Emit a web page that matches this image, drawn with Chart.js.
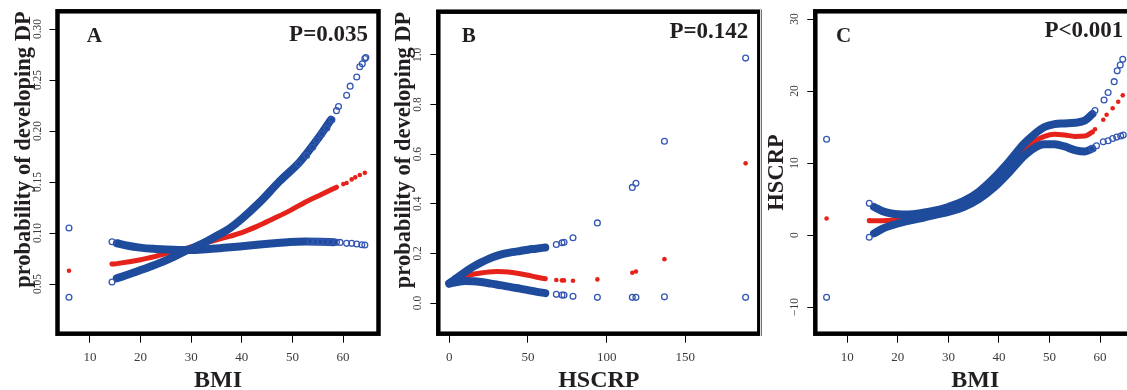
<!DOCTYPE html>
<html>
<head>
<meta charset="utf-8">
<title>BMI / HSCRP and probability of developing DP</title>
<script src="https://cdn.jsdelivr.net/npm/chart.js@4.4.1/dist/chart.umd.min.js"></script>
<style>
  html, body { margin: 0; padding: 0; background: #fff; }
  body { width: 1127px; height: 390px; overflow: hidden; position: relative; }
  canvas { position: absolute; top: 0; }
  #sep { position: absolute; left: 760px; top: 8px; width: 1px; height: 328px; background: #dedede; }
</style>
</head>
<body>
<canvas id="cA" width="385" height="390" style="left:0"></canvas>
<canvas id="cB" width="385" height="390" style="left:380px"></canvas>
<div id="sep"></div>
<canvas id="cC" width="385" height="390" style="left:760px"></canvas>
<script>
/* three spline panels: fitted curve (red) with upper / lower CI (blue) */

// A: BMI -> probability of developing DP
const aFitX = [14.35, 15.3, 20, 23.2, 26.5, 29.8, 33, 36.4, 40, 43, 46.2, 49.5, 52.8, 55.8, 58.7];
const aFitY = [0.0696, 0.0700, 0.0738, 0.0775, 0.0818, 0.0862, 0.0905, 0.0952, 0.1005, 0.1065, 0.1140, 0.1220, 0.1310, 0.1380, 0.1450];
const aFitDotX = [5.85, 14.35, 60.05, 60.7, 61.7, 62.4, 63.3, 64.3];
const aFitDotY = [0.063, 0.0696, 0.148, 0.149, 0.1526, 0.1546, 0.1569, 0.159];
const aUpX = [15.3, 17.5, 19.9, 22.5, 25.2, 27.5, 29.8, 33, 36.4, 39.6, 43, 46.3, 49.5, 52.5, 55.5, 58.2];
const aUpY = [0.0900, 0.0875, 0.0857, 0.0845, 0.0838, 0.0834, 0.0833, 0.0842, 0.0855, 0.0868, 0.0885, 0.0900, 0.0912, 0.0916, 0.0915, 0.0910];
const aLowX = [15.3, 18, 20.5, 23.2, 26, 28.5, 31, 33.1, 35.5, 37.7, 40, 43.5, 47.5, 51.5, 54.8, 57.6];
const aLowY = [0.0556, 0.0600, 0.0645, 0.0695, 0.0755, 0.0815, 0.0870, 0.0920, 0.0985, 0.1050, 0.1140, 0.1300, 0.1510, 0.1700, 0.1910, 0.2110];
const aRingX = [5.85, 5.85, 14.35, 14.35, 51.2, 52.8, 54, 54.8, 55.8, 56.8, 57.8, 58.7, 59.1, 60.7, 61.4, 62.7, 63.3, 63.8, 64.3, 64.5,
                53.5, 54.5, 55.5, 56.5, 57.5, 58.7, 59.4, 60.7, 61.7, 62.7, 63.7, 64.3];
const aRingY = [0.105, 0.037, 0.0915, 0.052, 0.168, 0.176, 0.184, 0.191, 0.197, 0.203, 0.211, 0.220, 0.224, 0.235, 0.244, 0.253, 0.263, 0.266, 0.271, 0.272,
                0.0916, 0.0916, 0.0915, 0.0914, 0.0912, 0.0909, 0.0908, 0.0899, 0.0899, 0.0892, 0.0885, 0.0882];

// B: HSCRP -> probability of developing DP
const bCurveX = [0, 3, 6, 10, 15, 20, 25, 30, 35, 40, 45, 50, 55, 61];
const bFitY = [0.080, 0.090, 0.099, 0.108, 0.116, 0.121, 0.125, 0.127, 0.126, 0.123, 0.118, 0.112, 0.105, 0.098];
const bUpY = [0.080, 0.093, 0.107, 0.125, 0.146, 0.163, 0.178, 0.190, 0.199, 0.205, 0.210, 0.215, 0.219, 0.224];
const bLowY = [0.078, 0.082, 0.086, 0.089, 0.088, 0.085, 0.080, 0.075, 0.069, 0.063, 0.058, 0.052, 0.046, 0.040];
const bDotX = [68, 71.6, 72.9, 78.6, 94.1, 116.3, 118.6, 136.7, 188.3];
const bFitDotY = [0.0926, 0.0912, 0.0912, 0.0899, 0.0953, 0.122, 0.127, 0.177, 0.563];
const bUpDotY = [0.236, 0.243, 0.245, 0.263, 0.323, 0.466, 0.483, 0.652, 0.987];
const bLowDotY = [0.035, 0.032, 0.032, 0.027, 0.023, 0.023, 0.023, 0.025, 0.023];

// C: BMI -> HSCRP
const cFitX = [14.35, 15.3, 17, 19, 21, 23, 25, 28, 30, 33, 36, 39, 42, 45, 47, 49, 51, 53, 55, 57, 58.5];
const cFitY = [2.0, 2.0, 2.0, 2.05, 2.2, 2.45, 2.75, 3.2, 3.55, 4.3, 5.5, 7.2, 9.4, 11.8, 13.0, 13.7, 14.0, 13.9, 13.7, 13.75, 14.3];
const cBandX = [15.3, 17, 19, 21, 23, 25, 28, 30, 33, 36, 39, 42, 45, 47, 49, 51, 53, 55, 57, 58.5];
const cUpY = [3.9, 3.3, 2.95, 2.85, 2.9, 3.1, 3.5, 3.9, 4.7, 6.0, 7.9, 10.2, 12.7, 14.0, 15.0, 15.4, 15.5, 15.6, 15.9, 16.8];
const cLowY = [0.23, 0.9, 1.4, 1.8, 2.1, 2.4, 2.9, 3.2, 3.9, 5.0, 6.6, 8.7, 11.0, 12.1, 12.6, 12.6, 12.3, 11.8, 11.6, 12.0];
const cFitDotX = [5.9, 14.35, 59.0, 60.65, 61.3, 62.5, 63.6, 64.5];
const cFitDotY = [2.3, 2.04, 14.7, 16.0, 16.7, 17.6, 18.5, 19.4];
const cRingX = [5.9, 5.9, 14.35, 14.35, 59.0, 60.8, 61.6, 62.8, 63.4, 64.0, 64.5, 58.4, 59.3, 60.65, 61.6, 62.5, 63.3, 64.1, 64.6];
const cRingY = [13.3, -8.65, 4.4, -0.3, 17.3, 18.75, 19.8, 21.3, 22.8, 23.6, 24.4, 12.0, 12.4, 12.96, 13.1, 13.4, 13.6, 13.75, 13.9];

const RED = '#e5231b';
const BAND = '#1e4b9b';
const RING = '#3457b3';
const INK = '#231f20';
const SERIF = '"Liberation Serif", "DejaVu Serif", serif';

function pts(xs, ys) { return xs.map((x, i) => ({ x: x, y: ys[i] })); }

function bandSet(xs, ys) {
    return { data: pts(xs, ys), showLine: true, borderColor: BAND, borderWidth: 8, pointRadius: 0,
             cubicInterpolationMode: 'monotone', borderCapStyle: 'round', borderJoinStyle: 'round', order: 1 };
}
function fitSet(xs, ys) {
    return { data: pts(xs, ys), showLine: true, borderColor: RED, borderWidth: 5, pointRadius: 0,
             cubicInterpolationMode: 'monotone', borderCapStyle: 'round', borderJoinStyle: 'round', order: 3 };
}
function ringSet(xs, ys) {
    return { data: pts(xs, ys), showLine: false, pointRadius: 2.9, pointBorderWidth: 1.3,
             pointBorderColor: RING, pointBackgroundColor: 'rgba(0,0,0,0)', order: 0 };
}
function dotSet(xs, ys) {
    return { data: pts(xs, ys), showLine: false, pointRadius: 2.3, pointBorderWidth: 0,
             pointBackgroundColor: RED, order: 2 };
}

// frame, panel letter and P value
const panelFrame = {
    id: 'panelFrame',
    afterDraw(chart, args, o) {
        const { ctx, chartArea: ca } = chart;
        ctx.save();
        ctx.lineWidth = 4.5;
        ctx.strokeStyle = '#000';
        ctx.strokeRect(ca.left, ca.top, ca.right - ca.left, ca.bottom - ca.top);
        ctx.fillStyle = INK;
        ctx.textBaseline = 'alphabetic';
        ctx.font = 'bold 21px ' + SERIF;
        ctx.textAlign = 'left';
        ctx.fillText(o.letter, ca.left + o.letterDx, ca.top + o.letterDy);
        ctx.font = 'bold 23px ' + SERIF;
        ctx.textAlign = 'right';
        ctx.fillText(o.pText, ca.right - o.pDx, ca.top + o.pDy);
        ctx.restore();
    }
};

const minus = v => (v < 0 ? '\u2212' + Math.abs(v) : String(v));

const panels = [
    { id: 'cA', letter: 'A', pText: 'P=0.035', xTitle: 'BMI', yTitle: 'probability of developing DP', yTitleAlign: 'end',
      xMin: 3.58, xMax: 67.0, xStep: 10, yMin: 0.0013, yMax: 0.3174, yStep: 0.05, yFmt: v => v.toFixed(2),
      yAxisW: 57.5, padRight: 6.5, yTickPad: 1.9, yTitlePad: 11,
      letterDx: 29.2, letterDy: 30.4, pDx: 10.5, pDy: 29.4,
      datasets: [ringSet(aRingX, aRingY), bandSet(aUpX, aUpY), bandSet(aLowX, aLowY),
                 dotSet(aFitDotX, aFitDotY), fitSet(aFitX, aFitY)] },
    { id: 'cB', letter: 'B', pText: 'P=0.142', xTitle: 'HSCRP', yTitle: 'probability of developing DP', yTitleAlign: 'end',
      xMin: -7.0, xMax: 197.0, xStep: 50, yMin: -0.1235, yMax: 1.174, yStep: 0.2, yFmt: v => v.toFixed(1),
      yAxisW: 58.3, padRight: 5.7, yTickPad: 4.8, yTitlePad: 11,
      letterDx: 23.4, letterDy: 30.4, pDx: 11, pDy: 26.4,
      datasets: [ringSet(bDotX, bUpDotY), ringSet(bDotX, bLowDotY), bandSet(bCurveX, bUpY), bandSet(bCurveX, bLowY),
                 dotSet(bDotX, bFitDotY), fitSet(bCurveX, bFitY)] },
    { id: 'cC', letter: 'C', pText: 'P<0.001', xTitle: 'BMI', yTitle: 'HSCRP', yTitleAlign: 'center',
      xMin: 3.67, xMax: 67.0, xStep: 10, yMin: -13.7, yMax: 31.07, yStep: 10, yFmt: minus,
      yAxisW: 55.3, padRight: 9.6, yTickPad: 3.5, yTitlePad: 4,
      letterDx: 20.7, letterDy: 30.7, pDx: 12.1, pDy: 26,
      datasets: [ringSet(cRingX, cRingY), bandSet(cBandX, cUpY), bandSet(cBandX, cLowY),
                 dotSet(cFitDotX, cFitDotY), fitSet(cFitX, cFitY)] }
];

panels.forEach(p => {
    new Chart(document.getElementById(p.id), {
        type: 'scatter',
        data: { datasets: p.datasets },
        plugins: [panelFrame],
        options: {
            responsive: false,
            animation: false,
            devicePixelRatio: 1,
            layout: { padding: { left: 0, right: p.padRight, top: 11.3, bottom: 0 } },
            plugins: {
                legend: { display: false },
                tooltip: { enabled: false },
                panelFrame: { letter: p.letter, pText: p.pText, letterDx: p.letterDx, letterDy: p.letterDy, pDx: p.pDx, pDy: p.pDy }
            },
            scales: {
                x: {
                    type: 'linear', min: p.xMin, max: p.xMax,
                    afterFit: s => { s.height = 56.3; },
                    border: { display: false },
                    grid: { drawOnChartArea: false, drawTicks: true, tickLength: 9, color: '#000', lineWidth: 1 },
                    ticks: { stepSize: p.xStep, includeBounds: false, autoSkip: false, maxRotation: 0, padding: 7,
                             color: '#3a3a3a', font: { family: SERIF, size: 13 } },
                    title: { display: true, text: p.xTitle, color: INK, padding: 0,
                             font: { family: SERIF, size: 24, weight: 'bold', lineHeight: 0.8 } }
                },
                y: {
                    type: 'linear', min: p.yMin, max: p.yMax,
                    afterFit: s => { s.width = p.yAxisW; },
                    border: { display: false },
                    grid: { drawOnChartArea: false, drawTicks: true, tickLength: 8, color: '#000', lineWidth: 1 },
                    ticks: { stepSize: p.yStep, includeBounds: false, autoSkip: false, minRotation: 90, maxRotation: 90,
                             crossAlign: 'center', padding: p.yTickPad, callback: p.yFmt,
                             color: '#3a3a3a', font: { family: SERIF, size: 11.5 } },
                    title: { display: true, text: p.yTitle, align: p.yTitleAlign, color: INK,
                             padding: { top: p.yTitlePad, bottom: 0 },
                             font: { family: SERIF, size: 22.5, weight: 'bold' } }
                }
            }
        }
    });
});
</script>
</body>
</html>
